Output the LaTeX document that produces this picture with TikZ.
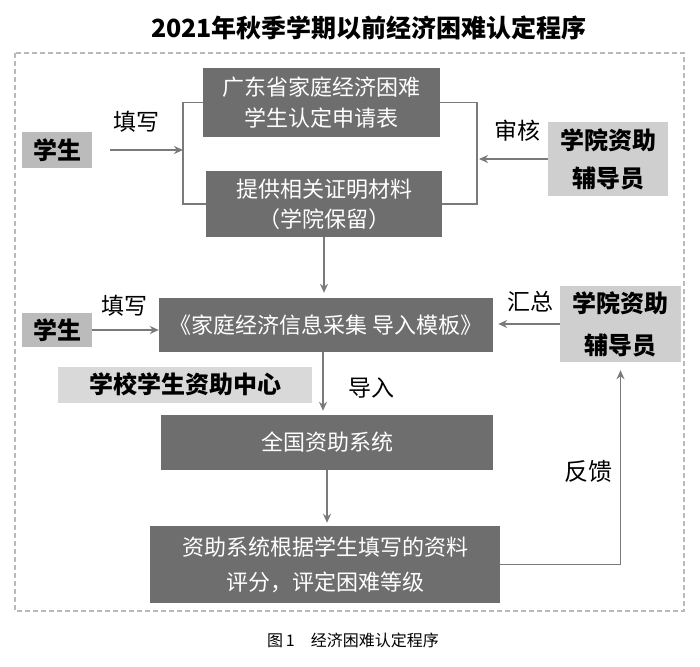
\documentclass[tikz,border=0pt]{standalone}
\usepackage{fontspec}
\setmainfont{Noto Sans CJK SC}
\usetikzlibrary{arrows.meta}
\definecolor{boxdark}{HTML}{6E6E6E}
\definecolor{boxlight}{HTML}{CFCFCF}
\definecolor{boxmid}{HTML}{BBBBBB}
\definecolor{linegray}{HTML}{7A7A7A}
\tikzset{
 dark/.style={fill=boxdark, text=white, inner sep=0pt, align=center, font=\fontsize{22}{31}\selectfont},
 light/.style={fill=boxlight, text=black, inner sep=0pt, align=center, font=\bfseries\fontsize{24}{38}\selectfont},
 arr/.style={draw=linegray, line width=1.8pt, -{Stealth[length=9pt,width=8pt]}},
 lin/.style={draw=linegray, line width=1.8pt},
 lbl/.style={font=\fontsize{23}{26}\selectfont, inner sep=0pt},
}
\begin{document}
\begin{tikzpicture}[x=1pt,y=-1pt]
\useasboundingbox[fill=white] (0,0) rectangle (700,666);
% title and caption
\node[font=\bfseries\fontsize{25}{30}\selectfont, inner sep=0pt] (title) at (369,28) {2021年秋季学期以前经济困难认定程序};
\node[font=\fontsize{16}{18}\selectfont, inner sep=0pt] (cap) at (353,640) {图\,1\quad 经济困难认定程序};
% dashed frame
\draw[gray!55, line width=1.3pt, dash pattern=on 5pt off 3pt] (15,53) rectangle (684,611);
% nodes
\node[dark, minimum width=237pt, minimum height=69pt] (t1) at (321.5,102.5) {广东省家庭经济困难\\学生认定申请表};
\node[dark, minimum width=236pt, minimum height=66pt, font=\fontsize{22}{30}\selectfont] (t2) at (324,204) {提供相关证明材料\\（学院保留）};
\node[light, fill=boxmid, minimum width=70pt, minimum height=36pt] (s1) at (57,150) {学生};
\node[light, minimum width=120pt, minimum height=74pt] (c1) at (608,159) {学院资助\\辅导员};
\node[dark, minimum width=334pt, minimum height=54pt] (m) at (326,325) {《家庭经济信息采集 导入模板》};
\node[light, fill=boxmid, minimum width=70pt, minimum height=34pt] (s2) at (57,330) {学生};
\node[light, minimum width=121pt, minimum height=76pt, font=\bfseries\fontsize{24}{42}\selectfont] (c2) at (620.5,324) {学院资助\\辅导员};
\node[light, fill=boxlight!80, minimum width=254pt, minimum height=36pt] (sc) at (185,384.5) {学校学生资助中心};
\node[dark, minimum width=332pt, minimum height=55pt] (g) at (327,442.5) {全国资助系统};
\node[dark, minimum width=350pt, minimum height=77pt, font=\fontsize{22}{35}\selectfont] (b) at (325,564.5) {资助系统根据学生填写的资料\\评分，评定困难等级};
% brackets
\coordinate (lb) at (183,150);
\coordinate (rb) at (477,159);
\draw[lin] (t1.west) -| (lb) |- (t2.west);
\draw[lin] (t1.east) -| (rb) |- (t2.east);
% connectors
\draw[arr] ([xshift=18pt]s1.east) -- (lb);
\draw[arr] (c1.west) -- ([xshift=2pt]rb);
\draw[arr, shorten >=5pt] (t2.south) -- (t2.south |- m.north);
\draw[arr] (s2.east) -- (s2.east -| m.west);
\draw[arr, shorten >=5pt] (c2.west) -- (c2.west -| m.east);
\draw[arr, shorten >=4pt] ([xshift=-3pt]m.south) -- ([xshift=-3pt]m.south |- g.north);
\draw[arr, shorten >=3pt] (g.south) -- (g.south |- b.north);
\draw[arr, shorten >=8pt] (b.east) -| (c2.south);
% labels
\node[lbl] (l1) at (136,122) {填写};
\node[lbl] (l2) at (517,131) {审核};
\node[lbl] (l3) at (124,306) {填写};
\node[lbl] (l4) at (530,302) {汇总};
\node[lbl] (l5) at (371,388) {导入};
\node[lbl, font=\fontsize{24}{28}\selectfont] (l6) at (588,471) {反馈};
\end{tikzpicture}
\end{document}
